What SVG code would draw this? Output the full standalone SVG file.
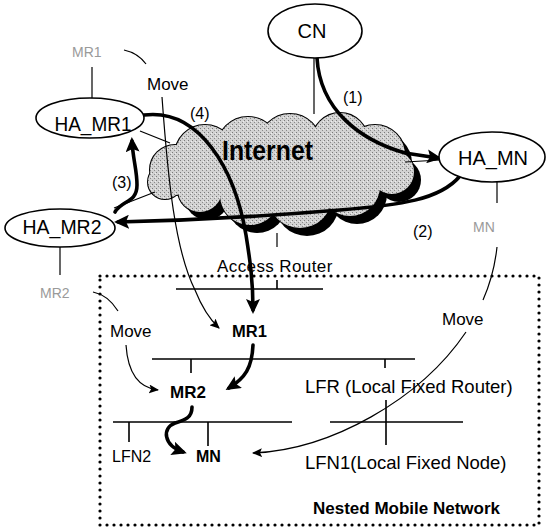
<svg xmlns="http://www.w3.org/2000/svg" width="547" height="529" viewBox="0 0 547 529">
<style>
text{font-family:"Liberation Sans",Arial,sans-serif;fill:#000}
.node{fill:#fff;stroke:#000;stroke-width:1.6}
.lbl{font-size:20px;text-anchor:middle}
.gray{fill:#9a9a9a;font-size:14px}
.t17{font-size:17px}
.b{font-weight:bold}
.thin{fill:none;stroke:#000;stroke-width:1.2}
.thick{fill:none;stroke:#000;stroke-width:3.6;stroke-linecap:round}
.net{fill:none;stroke:#000;stroke-width:1.6}
.dotted{fill:none;stroke:#000;stroke-width:3.2;stroke-dasharray:0 7;stroke-linecap:round}
</style>
<defs>
<marker id="ah" markerUnits="userSpaceOnUse" markerWidth="16" markerHeight="14" refX="11" refY="7" orient="auto">
<path d="M0,0 L15,7 L0,14 L3,7 z" fill="#000"/>
</marker>
<marker id="at" markerUnits="userSpaceOnUse" markerWidth="11" markerHeight="9" refX="9" refY="4.5" orient="auto">
<path d="M0,0 L10,4.5 L0,9 L2,4.5 z" fill="#000"/>
</marker>
<pattern id="stip" width="4" height="4" patternUnits="userSpaceOnUse">
<rect width="4" height="4" fill="#d2d2d2"/>
<rect x="0" y="0" width="1" height="1" fill="#7a7a7a"/>
<rect x="2" y="2" width="1" height="1" fill="#8a8a8a"/>
<rect x="3" y="1" width="1" height="1" fill="#eeeeee"/>
</pattern>
<g id="blobs">
<circle cx="175" cy="170" r="25"/><circle cx="205" cy="155" r="30"/><circle cx="248" cy="148" r="31"/><circle cx="290" cy="145" r="31"/><circle cx="340" cy="141" r="28"/><circle cx="375" cy="155" r="30"/><circle cx="392" cy="172" r="22"/><circle cx="350" cy="186" r="30"/><circle cx="300" cy="196" r="32"/><circle cx="250" cy="195" r="30"/><circle cx="200" cy="190" r="22"/><circle cx="165" cy="182" r="17"/>
</g>
</defs>

<g id="cloud">
<g fill="#000" transform="translate(7,8)">
<circle cx="375" cy="155" r="30"/><circle cx="392" cy="172" r="22"/><circle cx="350" cy="186" r="30"/><circle cx="300" cy="196" r="32"/><circle cx="250" cy="195" r="30"/><circle cx="200" cy="190" r="22"/>
</g>
<use href="#blobs" fill="none" stroke="#000" stroke-width="2"/>
<use href="#blobs" fill="url(#stip)"/>
<ellipse cx="280" cy="170" rx="115" ry="30" fill="url(#stip)"/>
<text x="222" y="160" font-size="28" font-weight="bold" textLength="91" lengthAdjust="spacingAndGlyphs">Internet</text>
</g>

<rect id="nested" x="100" y="276" width="439" height="249" class="dotted"/>

<g id="networks">
<path class="net" d="M176,289 H323 M277,280 V289"/>
<path class="net" d="M152,359 H415 M191,359 V373 M385,359 V368"/>
<path class="net" d="M113,422 H292 M129,422 V442 M208,422 V446"/>
<path class="net" d="M330,422 H463 M386,400 V445"/>
</g>

<g id="connectors">
<path class="thin" d="M92,67 V98"/>
<path class="thin" d="M124,50 Q138,53 146,64"/>
<path class="thin" d="M60,247 V275"/>
<path class="thin" d="M93,292 Q108,295 118,311"/>
<path class="thin" d="M497,182 V203"/>
<path class="thin" d="M497,247 Q494,275 483,300"/>
<path class="thin" d="M314,58 V114"/>
<path class="thin" d="M405,162 L440,160"/>
<path class="thin" d="M140,131 L170,143"/>
<path class="thin" d="M114,208 L155,192"/>
<path class="thin" d="M277,233 V247"/>
<path class="thin" d="M162,97 C168,180 175,250 195,290 Q205,315 219,328" marker-end="url(#at)"/>
<path class="thin" d="M466,332 C420,400 330,450 253,453" marker-end="url(#at)"/>
<path class="thin" d="M126,345 C128,375 140,388 158,390" marker-end="url(#at)"/>
<path class="thick" d="M317,58 C320,110 360,140 405,153 L438,158" marker-end="url(#ah)"/>
<path class="thick" d="M460,176 C440,200 400,205 340,210 C280,215 200,220 118,222" marker-end="url(#ah)"/>
<path class="thick" d="M115,212 C122,200 137,203 137,185 C137,170 133,160 132,141" marker-end="url(#ah)"/>
<path class="thick" d="M144,115 C200,108 235,170 246,235 C250,260 253,280 253,310" marker-end="url(#ah)"/>
<path class="thick" d="M253,345 C252,368 245,378 229,388" marker-end="url(#ah)"/>
<path class="thick" d="M192,407 C192,418 185,420 175,423 C162,428 163,445 183,452" marker-end="url(#ah)"/>
</g>

<g id="CN"><ellipse class="node" cx="315" cy="31" rx="47" ry="27"/><text class="lbl" x="312" y="38" font-size="19">CN</text></g>
<g id="HA_MN"><ellipse class="node" cx="492" cy="157" rx="53" ry="25"/><text class="lbl" x="493" y="165" font-size="23" textLength="70" lengthAdjust="spacingAndGlyphs">HA_MN</text></g>
<g id="HA_MR1"><ellipse class="node" cx="90" cy="118" rx="54" ry="20"/><text class="lbl" x="93" y="131" font-size="23" textLength="77" lengthAdjust="spacingAndGlyphs">HA_MR1</text></g>
<g id="HA_MR2"><ellipse class="node" cx="60" cy="228" rx="55" ry="19"/><text class="lbl" x="62" y="234" font-size="23" textLength="79" lengthAdjust="spacingAndGlyphs">HA_MR2</text></g>

<g id="labels">
<text class="gray" x="72" y="57">MR1</text>
<text class="gray" x="40" y="298">MR2</text>
<text class="gray" x="473" y="232" font-size="15">MN</text>
<text class="t17" x="147" y="90">Move</text>
<text font-size="16" x="190" y="119">(4)</text>
<text font-size="16" x="112" y="188">(3)</text>
<text font-size="16" x="343" y="103">(1)</text>
<text font-size="16" x="413" y="237">(2)</text>
<text x="217" y="272" font-size="17" letter-spacing="0.4">Access Router</text>
</g>

<g id="MR1"><text class="b" x="232" y="337" font-size="16.5">MR1</text></g>
<g id="MR2"><text class="b" x="170" y="398" font-size="17">MR2</text></g>
<g id="MN"><text class="b" x="196" y="462" font-size="16">MN</text></g>
<g id="LFN2"><text x="112" y="462" font-size="16">LFN2</text></g>
<g id="LFR"><text x="305" y="393" font-size="18.5">LFR (Local Fixed Router)</text></g>
<g id="LFN1"><text x="305" y="469" font-size="18.5">LFN1(Local Fixed Node)</text></g>
<g id="moves">
<text class="t17" x="110" y="337">Move</text>
<text class="t17" x="442" y="325">Move</text>
</g>
<text class="b" x="313" y="514" font-size="17">Nested Mobile Network</text>
</svg>
